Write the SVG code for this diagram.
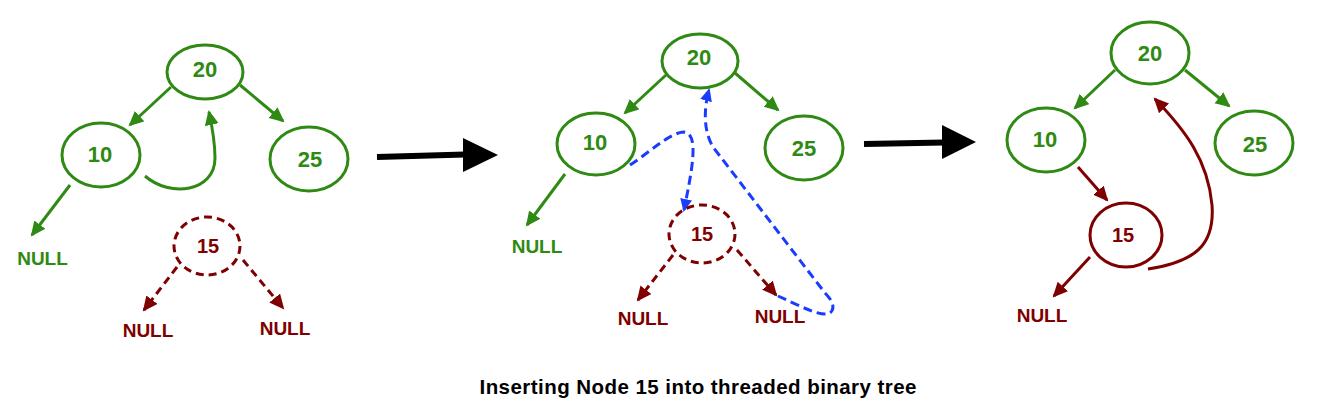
<svg xmlns="http://www.w3.org/2000/svg" width="1328" height="411" viewBox="0 0 1328 411">
<style>
.g{fill:none;stroke:#2f8a14;stroke-width:3}
.r{fill:none;stroke:#7f0000;stroke-width:3}
.rd{fill:none;stroke:#7f0000;stroke-width:3;stroke-dasharray:8 5}
.b{fill:none;stroke:#1a3cff;stroke-width:3;stroke-dasharray:9 5}
.ga{marker-end:url(#mg)}
.ra{marker-end:url(#mr)}
.ba{marker-end:url(#mb)}
text{font-family:"Liberation Sans",Arial,sans-serif;font-weight:bold;text-anchor:middle}
.tg{fill:#2f8a14;font-size:22px}
.tr{fill:#7f0000;font-size:20px}
.ng{fill:#2f8a14;font-size:19px}
.nr{fill:#7f0000;font-size:19px}
.big{stroke:#000;stroke-width:6;fill:none}
</style>
<defs>
<marker id="mg" markerUnits="userSpaceOnUse" markerWidth="16" markerHeight="15" refX="13" refY="7" orient="auto"><path d="M0,0 L15,7 L0,14 z" fill="#2f8a14"/></marker>
<marker id="mr" markerUnits="userSpaceOnUse" markerWidth="16" markerHeight="15" refX="13" refY="7" orient="auto"><path d="M0,0 L15,7 L0,14 z" fill="#7f0000"/></marker>
<marker id="mb" markerUnits="userSpaceOnUse" markerWidth="14" markerHeight="13" refX="11" refY="6" orient="auto"><path d="M0,0 L13,6 L0,12 z" fill="#1a3cff"/></marker>
</defs>
<rect width="1328" height="411" fill="#fff"/>

<g id="connectors">
<!-- panel 1 -->
<line class="g ga" x1="171" y1="87" x2="130" y2="125"/>
<line class="g ga" x1="240" y1="85" x2="283" y2="121"/>
<line class="g ga" x1="70" y1="185" x2="32" y2="235"/>
<path class="g ga" d="M145,176 C170,198 215,192 215,158 C215,140 212,126 209,112"/>
<line class="rd ra" x1="177" y1="267" x2="144" y2="310"/>
<line class="rd ra" x1="243" y1="260" x2="283" y2="308"/>
<!-- panel 2 -->
<line class="g ga" x1="666" y1="75" x2="625" y2="113"/>
<line class="g ga" x1="735" y1="73" x2="778" y2="110"/>
<line class="g ga" x1="565" y1="174" x2="527" y2="225"/>
<line class="rd ra" x1="673" y1="255" x2="638" y2="300"/>
<line class="rd ra" x1="737" y1="250" x2="776" y2="295"/>
<path class="b ba" d="M630,165 C650,152 668,134 683,132 C700,132 692,170 684,210"/>
<path class="b ba" d="M778,296 C798,305 822,318 830,313 C836,308 832,300 825,293 L713,147 C703,130 704,108 709,90"/>
<!-- panel 3 -->
<line class="g ga" x1="1115" y1="70" x2="1075" y2="108"/>
<line class="g ga" x1="1185" y1="70" x2="1229" y2="106"/>
<line class="r ra" x1="1078" y1="167" x2="1107" y2="200"/>
<line class="r ra" x1="1090" y1="257" x2="1054" y2="296"/>
<path class="r ra" d="M1148,269 C1195,262 1215,245 1212,205 C1208,160 1185,130 1155,99"/>
</g>

<g id="transitions">
<line class="big" x1="377" y1="157" x2="465" y2="154.5"/>
<polygon points="463,138 498,155 463,172" fill="#000"/>
<line class="big" x1="864" y1="144" x2="944" y2="142.5"/>
<polygon points="942,125 976,142 942,159" fill="#000"/>
</g>

<!-- panel 1 nodes -->
<g id="p1-n20"><ellipse class="g" cx="205" cy="72" rx="38" ry="27"/><text class="tg" x="205" y="77">20</text></g>
<g id="p1-n10"><ellipse class="g" cx="101" cy="155" rx="39" ry="32"/><text class="tg" x="100" y="162">10</text></g>
<g id="p1-n25"><ellipse class="g" cx="309" cy="159" rx="39" ry="32"/><text class="tg" x="310" y="167">25</text></g>
<g id="p1-n15"><ellipse class="rd" cx="207" cy="246" rx="33" ry="29"/><text class="tr" x="208" y="253">15</text></g>
<g id="p1-null-a"><text class="ng" x="42.5" y="265">NULL</text></g>
<g id="p1-null-b"><text class="nr" x="148" y="337">NULL</text></g>
<g id="p1-null-c"><text class="nr" x="285" y="335">NULL</text></g>

<!-- panel 2 nodes -->
<g id="p2-n20"><ellipse class="g" cx="700" cy="61" rx="38" ry="27"/><text class="tg" x="699" y="65">20</text></g>
<g id="p2-n10"><ellipse class="g" cx="596" cy="144" rx="39" ry="31"/><text class="tg" x="595" y="150">10</text></g>
<g id="p2-n25"><ellipse class="g" cx="804" cy="148" rx="39" ry="32"/><text class="tg" x="804" y="156">25</text></g>
<g id="p2-n15"><ellipse class="rd" cx="702" cy="234" rx="33" ry="29"/><text class="tr" x="702" y="241">15</text></g>
<g id="p2-null-a"><text class="ng" x="537" y="253">NULL</text></g>
<g id="p2-null-b"><text class="nr" x="643" y="325">NULL</text></g>
<g id="p2-null-c"><text class="nr" x="780" y="323">NULL</text></g>

<!-- panel 3 nodes -->
<g id="p3-n20"><ellipse class="g" cx="1150" cy="53" rx="39" ry="31"/><text class="tg" x="1150" y="61">20</text></g>
<g id="p3-n10"><ellipse class="g" cx="1046" cy="140" rx="39" ry="32"/><text class="tg" x="1045" y="147">10</text></g>
<g id="p3-n25"><ellipse class="g" cx="1254" cy="143" rx="39" ry="32"/><text class="tg" x="1255" y="152">25</text></g>
<g id="p3-n15"><ellipse class="r" cx="1126" cy="235" rx="36" ry="32"/><text class="tr" x="1123" y="242">15</text></g>
<g id="p3-null"><text class="nr" x="1042" y="322">NULL</text></g>

<g id="title"><text x="698" y="394" font-size="20.5" fill="#000" textLength="437" lengthAdjust="spacing">Inserting Node 15 into threaded binary tree</text></g>
</svg>
